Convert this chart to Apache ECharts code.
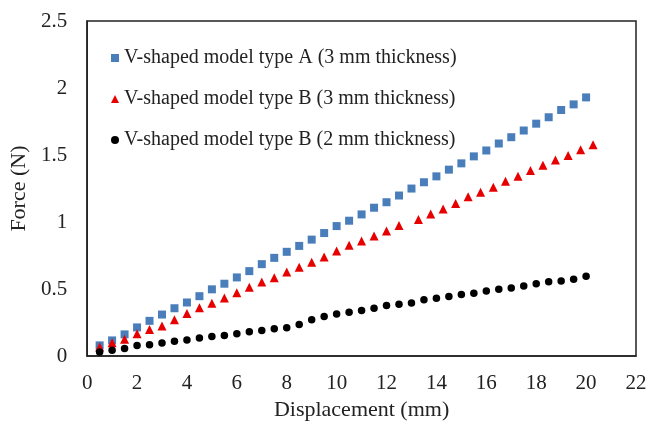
<!DOCTYPE html>
<html>
<head>
<meta charset="utf-8">
<script src="https://cdn.jsdelivr.net/npm/echarts@6/dist/echarts.min.js"></script>
<style>html,body{margin:0;padding:0;background:#fff}#c{width:650px;height:426px}</style>
</head>
<body>
<div id="c"></div>
<script>
var seriesNames = [
  'V-shaped model type A (3 mm thickness)',
  'V-shaped model type B (3 mm thickness)',
  'V-shaped model type B (2 mm thickness)'
];
var xA = [0.5,1,1.5,2,2.5,3,3.5,4,4.5,5,5.5,6,6.5,7,7.5,8,8.5,9,9.5,10,10.5,11,11.5,12,12.5,13,13.5,14,14.5,15,15.5,16,16.5,17,17.5,18,18.5,19,19.5,20];
var yA = [0.08,0.117,0.162,0.214,0.263,0.31,0.357,0.40,0.447,0.498,0.54,0.587,0.634,0.686,0.733,0.778,0.822,0.869,0.918,0.97,1.01,1.057,1.107,1.148,1.198,1.25,1.297,1.341,1.391,1.438,1.49,1.534,1.586,1.633,1.683,1.734,1.782,1.836,1.878,1.93];
var xB3 = [0.5,1,1.5,2,2.5,3,3.5,4,4.5,5,5.5,6,6.5,7,7.5,8,8.5,9,9.5,10,10.5,11,11.5,12,12.5,13.28,13.77,14.27,14.77,15.27,15.77,16.28,16.77,17.27,17.77,18.27,18.77,19.28,19.78,20.28];
var yB3 = [0.068,0.10,0.125,0.167,0.199,0.224,0.271,0.318,0.36,0.395,0.434,0.473,0.513,0.553,0.585,0.627,0.662,0.701,0.74,0.785,0.827,0.859,0.896,0.933,0.975,1.02,1.06,1.097,1.139,1.188,1.223,1.26,1.305,1.341,1.384,1.423,1.463,1.497,1.539,1.576];
var xB2 = [0.5,1,1.5,2,2.5,3,3.5,4,4.5,5,5.5,6,6.5,7,7.5,8,8.5,9,9.5,10,10.5,11,11.5,12,12.5,13,13.5,14,14.5,15,15.5,16,16.5,17,17.5,18,18.5,19,19.5,20];
var yB2 = [0.031,0.043,0.056,0.080,0.085,0.098,0.11,0.12,0.135,0.147,0.154,0.167,0.182,0.191,0.204,0.211,0.236,0.271,0.295,0.315,0.328,0.34,0.357,0.377,0.387,0.397,0.421,0.432,0.444,0.459,0.469,0.486,0.498,0.508,0.523,0.54,0.555,0.56,0.573,0.595];
var xTicks = {min: 0, max: 22, interval: 2};
var yTicks = {min: 0, max: 2.5, interval: 0.5};

function pairs(xs, ys){ return xs.map(function(x,i){ return [x, ys[i]]; }); }

var font = 'Liberation Serif, Times New Roman, serif';
var chart = echarts.init(document.getElementById('c'), null, {renderer: 'canvas'});
chart.setOption({
  animation: false,
  backgroundColor: '#fff',
  grid: {left: 85, right: 14, top: 21, bottom: 68, show: true, borderColor: '#222', borderWidth: 1.5, containLabel: false},
  legend: {
    orient: 'vertical', left: 106, top: 43, itemGap: 21, itemWidth: 8, itemHeight: 8,
    textStyle: {fontFamily: font, fontSize: 20, color: '#222', lineHeight: 20},
    data: [
      {name: seriesNames[0], icon: 'rect'},
      {name: seriesNames[1], icon: 'triangle'},
      {name: seriesNames[2], icon: 'circle'}
    ]
  },
  xAxis: {
    type: 'value', min: xTicks.min, max: xTicks.max, interval: xTicks.interval,
    name: 'Displacement (mm)', nameLocation: 'middle', nameGap: 38,
    nameTextStyle: {fontFamily: font, fontSize: 22, color: '#222'},
    axisLine: {show: true, lineStyle: {color: '#222', width: 1.5}},
    axisTick: {show: false}, splitLine: {show: false},
    axisLabel: {fontFamily: font, fontSize: 21, color: '#222', margin: 17}
  },
  yAxis: {
    type: 'value', min: yTicks.min, max: yTicks.max, interval: yTicks.interval,
    name: 'Force (N)', nameLocation: 'middle', nameGap: 54,
    nameTextStyle: {fontFamily: font, fontSize: 22, color: '#222'},
    axisLine: {show: true, lineStyle: {color: '#222', width: 1.5}},
    axisTick: {show: false}, splitLine: {show: false},
    axisLabel: {fontFamily: font, fontSize: 21, color: '#222', margin: 20}
  },
  series: [
    {name: seriesNames[0], type: 'scatter', symbol: 'rect', symbolSize: 8, itemStyle: {color: '#4a7ebb', opacity: 1}, data: pairs(xA, yA)},
    {name: seriesNames[1], type: 'scatter', symbol: 'triangle', symbolSize: 9, itemStyle: {color: '#e60000', opacity: 1}, data: pairs(xB3, yB3)},
    {name: seriesNames[2], type: 'scatter', symbol: 'circle', symbolSize: 7.5, itemStyle: {color: '#000', opacity: 1}, data: pairs(xB2, yB2)}
  ]
});
</script>
</body>
</html>
